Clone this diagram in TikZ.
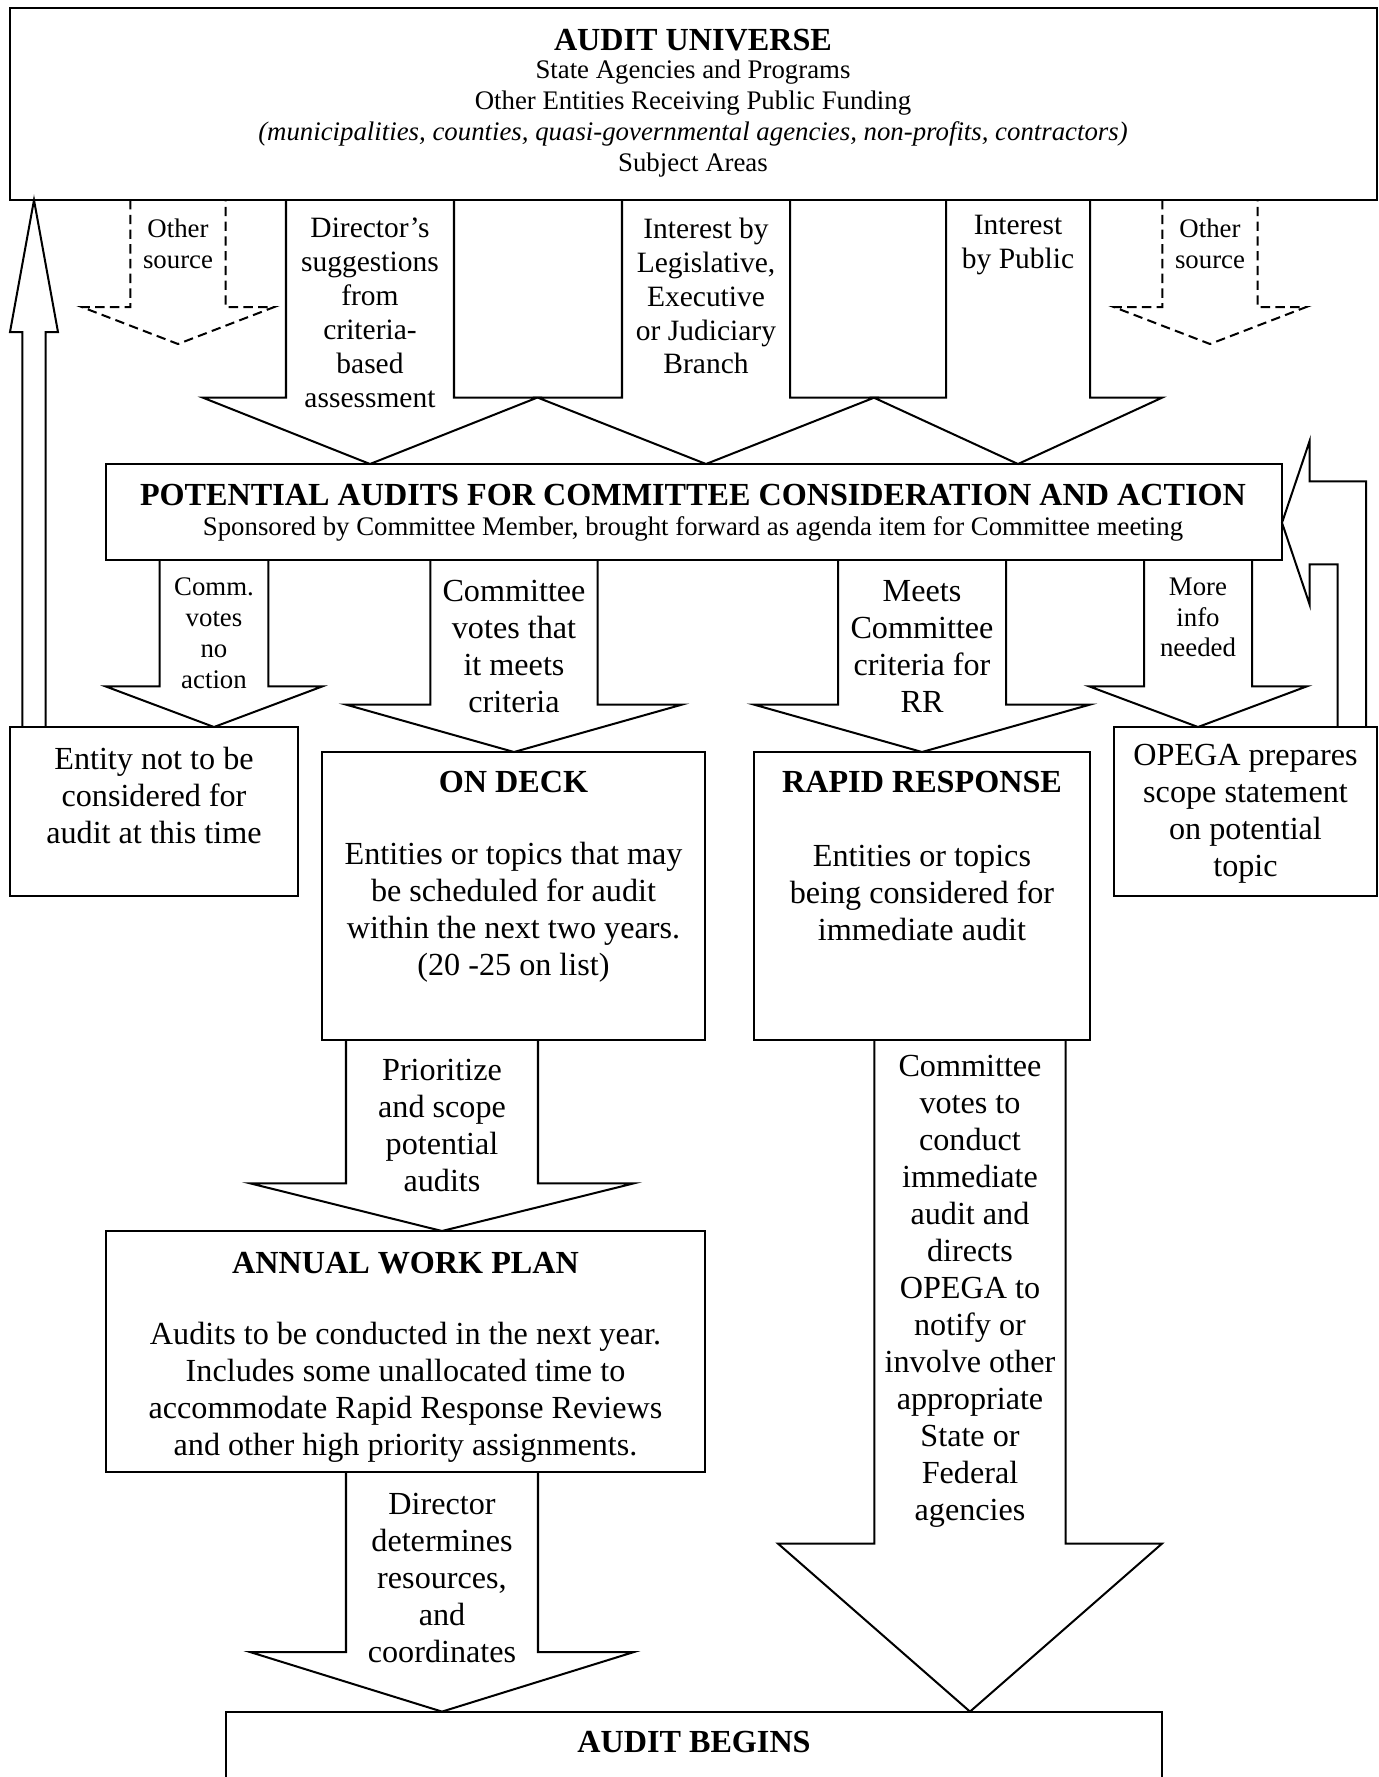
\documentclass[tikz,border=0pt]{standalone}
\usepackage{fontspec}
\setmainfont{Liberation Serif}
\usepackage{tikz}
\usetikzlibrary{calc,fit}

% block arrow pointing down: [style]{top anchor}{tip anchor}{x ref}{shaft half}{head half}{head length}
\newcommand{\downarrowbox}[7][]{%
  \draw[blockarrow,#1] ($(#2 -| #4)+(-#5,0)$) -- ($(#3 -| #4)+(-#5,-#7)$)
    -- ($(#3 -| #4)+(-#6,-#7)$) -- (#3 -| #4) -- ($(#3 -| #4)+(#6,-#7)$)
    -- ($(#3 -| #4)+(#5,-#7)$) -- ($(#2 -| #4)+(#5,0)$);}

\begin{document}
\begin{tikzpicture}[x=0.373pt, y=-0.373pt, line width=0.75pt]
  \tikzset{
    box/.style={draw, inner sep=0pt, outer sep=0pt},
    blockarrow/.style={draw, line join=miter},
    dashedarrow/.style={blockarrow, dash pattern=on 3.5pt off 2pt},
    txt/.style={align=center, inner sep=0pt, font=\fontsize{12}{13.8}\selectfont},
    midtxt/.style={txt, font=\fontsize{11}{12.65}\selectfont},
    smalltxt/.style={txt, font=\fontsize{10}{11.5}\selectfont},
    boxtitle/.style={txt, font=\fontsize{12}{13.8}\selectfont\bfseries},
  }
  \useasboundingbox (0,0) rectangle (1378,1777);

  % boxes
  \node[box, fit={(10,8) (1377,200)}] (universe) {};
  \node[box, fit={(106,464) (1282,559.5)}] (potential) {};
  \node[box, fit={(10,727) (298,896)}] (entity) {};
  \node[box, fit={(322,752) (705,1040)}] (ondeck) {};
  \node[box, fit={(754,752) (1089.5,1040)}] (rapid) {};
  \node[box, fit={(1114,727) (1377,896)}] (opega) {};
  \node[box, fit={(106,1231) (705,1472)}] (annual) {};
  \node[box, fit={(226,1711.6) (1162,1800)}] (begins) {};

  % x positions of the block arrows
  \coordinate (othlx) at (178,0);
  \coordinate (dirx) at (370,0);
  \coordinate (legx) at (706,0);
  \coordinate (pubx) at (1018,0);
  \coordinate (othrx) at (1210,0);
  \coordinate (noactx) at (214,0);
  \coordinate (meetsx) at (514,0);
  \coordinate (rrx) at (922,0);
  \coordinate (morex) at (1198,0);
  \coordinate (planx) at (442,0);
  \coordinate (bigx) at (970,0);
  \coordinate (upx) at (34,0);
  \coordinate (backi) at (1337.7,0);
  \coordinate (backo) at (1366,0);
  \coordinate (othltip) at (178,344);
  \coordinate (othrtip) at (1210,344);
  \coordinate (backtip) at ($(potential.east)+(0,11)$);

  % sources into the committee
  \downarrowbox[dashedarrow]{universe.south}{othltip}{othlx}{47.7}{96.3}{37}
  \downarrowbox[dashedarrow]{universe.south}{othrtip}{othrx}{47.7}{96.3}{37}
  \downarrowbox{universe.south}{potential.north}{dirx}{84}{167}{66.3}
  \downarrowbox{universe.south}{potential.north}{legx}{84}{168}{66.3}
  \downarrowbox{universe.south}{potential.north}{pubx}{72}{144}{66.3}

  % committee decisions
  \downarrowbox{potential.south}{entity.north}{noactx}{54.3}{108.3}{40.6}
  \downarrowbox{potential.south}{ondeck.north}{meetsx}{83.7}{168}{47.4}
  \downarrowbox{potential.south}{rapid.north}{rrx}{84}{168}{47.4}
  \downarrowbox{potential.south}{opega.north}{morex}{54}{108.7}{40.6}

  % towards the audit
  \downarrowbox{ondeck.south}{annual.north}{planx}{96}{192}{47.7}
  \downarrowbox{annual.south}{begins.north}{planx}{96}{192}{59.6}
  \downarrowbox{rapid.south}{begins.north}{bigx}{95.7}{192}{168}

  % back to the universe, back to the committee
  \draw[blockarrow] ($(entity.north -| upx)+(-11.7,0)$) -- ($(universe.south -| upx)+(-11.7,132)$)
    -- ($(universe.south -| upx)+(-24,132)$) -- (universe.south -| upx)
    -- ($(universe.south -| upx)+(24,132)$) -- ($(universe.south -| upx)+(11.7,132)$)
    -- ($(entity.north -| upx)+(11.7,0)$);
  \draw[blockarrow] (opega.north -| backi) |- ($(backtip)+(27.7,41.5)$) -- ($(backtip)+(27.7,82)$)
    -- (backtip) -- ($(backtip)+(27.7,-82)$) -- ($(backtip)+(27.7,-41.5)$) -| (opega.north -| backo);

  % texts
  \node[boxtitle] at (693,40) (univT) {AUDIT UNIVERSE};
  \node[smalltxt] at (693,118.5) (univB) {State Agencies and Programs\\Other Entities Receiving Public Funding\\\textit{(municipalities, counties, quasi-governmental agencies, non-profits, contractors)}\\Subject Areas};
  \node[smalltxt] at (178,243.5) (othlT) {Other\\source};
  \node[smalltxt] at (1210,243.5) (othrT) {Other\\source};
  \node[midtxt] at (370,313) (dirT) {Director's\\suggestions\\from\\criteria-\\based\\assessment};
  \node[midtxt] at (706,296) (legT) {Interest by\\Legislative,\\Executive\\or Judiciary\\Branch};
  \node[midtxt] at (1018,245) (pubT) {Interest\\by Public};

  \node[boxtitle] at (693,495) (potT) {POTENTIAL AUDITS FOR COMMITTEE CONSIDERATION AND ACTION};
  \node[smalltxt] at (693,529) (potB) {Sponsored by Committee Member, brought forward as agenda item for Committee meeting};

  \node[smalltxt] at (214,633.4) (noactT) {Comm.\\votes\\no\\action};
  \node[txt] at (514,646) (meetsT) {Committee\\votes that\\it meets\\criteria};
  \node[txt] at (922,646) (rrT) {Meets\\Committee\\criteria for\\RR};
  \node[smalltxt] at (1198,617.5) (moreT) {More\\info\\needed};

  \node[txt] at (154,795.5) (entityT) {Entity not to be\\considered for\\audit at this time};
  \node[boxtitle] at (513.5,782) (ondeckT) {ON DECK};
  \node[txt] at (513.5,912) (ondeckB) {Entities or topics that may\\be scheduled for audit\\within the next two years.\\(20 -25 on list)};
  \node[boxtitle] at (922,782) (rapidT) {RAPID RESPONSE};
  \node[txt] at (922,893) (rapidB) {Entities or topics\\being considered for\\immediate audit};
  \node[txt] at (1245.5,813.5) (opegaT) {OPEGA prepares\\scope statement\\on potential\\topic};

  \node[txt] at (442,1125.5) (prioT) {Prioritize\\and scope\\potential\\audits};
  \node[boxtitle] at (405.5,1262.6) (annualT) {ANNUAL WORK PLAN};
  \node[txt] at (405.5,1392) (annualB) {Audits to be conducted in the next year.\\Includes some unallocated time to\\accommodate Rapid Response Reviews\\and other high priority assignments.};
  \node[txt] at (442,1577.5) (resT) {Director\\determines\\resources,\\and\\coordinates};
  \node[txt] at (970,1291) (bigT) {Committee\\votes to\\conduct\\immediate\\audit and\\directs\\OPEGA to\\notify or\\involve other\\appropriate\\State or\\Federal\\agencies};
  \node[boxtitle] at (694,1742) (beginsT) {AUDIT BEGINS};
\end{tikzpicture}
\end{document}
